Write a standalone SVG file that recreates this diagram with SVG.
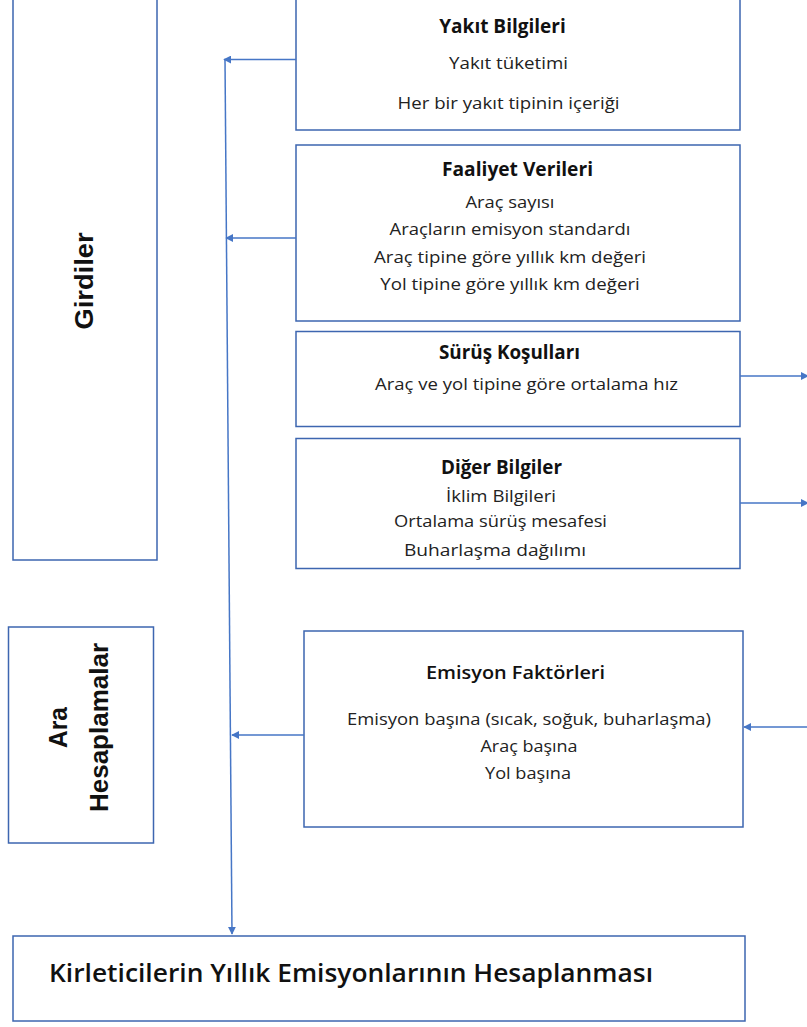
<svg xmlns="http://www.w3.org/2000/svg" width="807" height="1027" viewBox="0 0 807 1027">
<style>
.box{fill:#fff;stroke:#3d66b0;stroke-width:1.5}
.t{font-family:"Open Sans","Liberation Sans",sans-serif;font-size:17px;fill:#222;text-anchor:middle}
.h{font-weight:bold;font-size:19.5px;fill:#111}
.v{font-family:"Liberation Sans",Arial,sans-serif;font-weight:bold;font-size:26px;fill:#111;text-anchor:middle}
.c{stroke:#4676c6;stroke-width:1.5;fill:none}
</style>
<defs>
<marker id="ah" viewBox="0 0 10 10" refX="9" refY="5" markerWidth="8" markerHeight="8" orient="auto" markerUnits="userSpaceOnUse">
<path d="M0,0 L10,5 L0,10 z" fill="#4676c6"/>
</marker>
</defs>
<g id="girdiler"><rect class="box" x="13" y="-2" width="144" height="562"/><text class="v" transform="translate(93,281) rotate(-90)" textLength="97" lengthAdjust="spacingAndGlyphs">Girdiler</text></g>
<g id="ara"><rect class="box" x="8.5" y="627" width="145" height="216"/><text class="v" transform="translate(67,727.5) rotate(-90)" textLength="41" lengthAdjust="spacingAndGlyphs">Ara</text><text class="v" transform="translate(108,727.5) rotate(-90)" textLength="169" lengthAdjust="spacingAndGlyphs">Hesaplamalar</text></g>
<g id="yakit"><rect class="box" x="296" y="-2" width="444" height="132"/>
<text class="t h" x="502.5" y="33" textLength="126.5" lengthAdjust="spacingAndGlyphs">Yakıt Bilgileri</text>
<text class="t" x="508.5" y="69" textLength="119" lengthAdjust="spacingAndGlyphs">Yakıt tüketimi</text>
<text class="t" x="508.5" y="109" textLength="222" lengthAdjust="spacingAndGlyphs">Her bir yakıt tipinin içeriği</text></g>
<g id="faaliyet"><rect class="box" x="296" y="145" width="444" height="176"/>
<text class="t h" x="517.5" y="176" textLength="151" lengthAdjust="spacingAndGlyphs">Faaliyet Verileri</text>
<text class="t" x="510" y="208" textLength="89" lengthAdjust="spacingAndGlyphs">Araç sayısı</text>
<text class="t" x="510" y="235" textLength="241" lengthAdjust="spacingAndGlyphs">Araçların emisyon standardı</text>
<text class="t" x="510" y="263" textLength="272" lengthAdjust="spacingAndGlyphs">Araç tipine göre yıllık km değeri</text>
<text class="t" x="510" y="290" textLength="259.5" lengthAdjust="spacingAndGlyphs">Yol tipine göre yıllık km değeri</text></g>
<g id="surus"><rect class="box" x="296" y="331.5" width="444" height="95"/>
<text class="t h" x="509.5" y="359" textLength="141" lengthAdjust="spacingAndGlyphs">Sürüş Koşulları</text>
<text class="t" x="526.5" y="390" textLength="303" lengthAdjust="spacingAndGlyphs">Araç ve yol tipine göre ortalama hız</text></g>
<g id="diger"><rect class="box" x="296" y="438.5" width="444" height="130"/>
<text class="t h" x="501.5" y="474" textLength="121" lengthAdjust="spacingAndGlyphs">Diğer Bilgiler</text>
<text class="t" x="501" y="502" textLength="110" lengthAdjust="spacingAndGlyphs">İklim Bilgileri</text>
<text class="t" x="500.5" y="527" textLength="213" lengthAdjust="spacingAndGlyphs">Ortalama sürüş mesafesi</text>
<text class="t" x="495" y="556" textLength="182" lengthAdjust="spacingAndGlyphs">Buharlaşma dağılımı</text></g>
<g id="emisyon"><rect class="box" x="304" y="631" width="439" height="196"/>
<text class="t" style="font-weight:600;font-size:18.5px;fill:#111" x="515.5" y="679" textLength="179" lengthAdjust="spacingAndGlyphs">Emisyon Faktörleri</text>
<text class="t" x="529" y="725" textLength="364" lengthAdjust="spacingAndGlyphs">Emisyon başına (sıcak, soğuk, buharlaşma)</text>
<text class="t" x="529" y="752" textLength="97" lengthAdjust="spacingAndGlyphs">Araç başına</text>
<text class="t" x="528" y="779" textLength="86" lengthAdjust="spacingAndGlyphs">Yol başına</text></g>
<g id="kirleticiler"><rect class="box" x="13" y="936" width="732" height="85"/>
<text class="t" style="font-size:25.5px;font-weight:600;fill:#111;text-anchor:start" x="49" y="982" textLength="604" lengthAdjust="spacingAndGlyphs">Kirleticilerin Yıllık Emisyonlarının Hesaplanması</text></g>
<g id="connectors">
<line class="c" x1="296" y1="59.5" x2="224" y2="59.5" marker-end="url(#ah)"/>
<line class="c" x1="296" y1="238" x2="226" y2="238" marker-end="url(#ah)"/>
<line class="c" x1="304" y1="735" x2="232" y2="735" marker-end="url(#ah)"/>
<line class="c" x1="225" y1="59.5" x2="232" y2="934" marker-end="url(#ah)"/>
<line class="c" x1="740" y1="376" x2="808" y2="376" marker-end="url(#ah)"/>
<line class="c" x1="740" y1="503" x2="808" y2="503" marker-end="url(#ah)"/>
<line class="c" x1="807" y1="727" x2="744" y2="727" marker-end="url(#ah)"/>
</g>
</svg>
